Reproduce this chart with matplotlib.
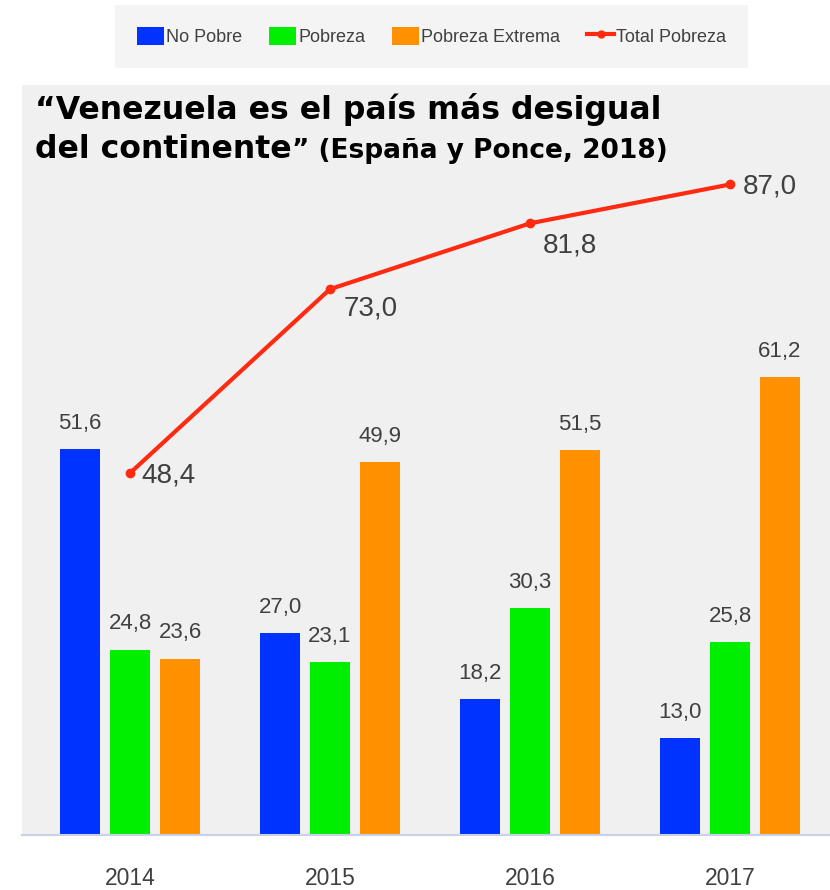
import matplotlib
matplotlib.use("Agg")
import matplotlib.pyplot as plt
from matplotlib.patches import Patch
from matplotlib.lines import Line2D

years = ["2014", "2015", "2016", "2017"]
no_pobre = [51.6, 27.0, 18.2, 13.0]
pobreza = [24.8, 23.1, 30.3, 25.8]
pobreza_extrema = [23.6, 49.9, 51.5, 61.2]
total_pobreza = [48.4, 73.0, 81.8, 87.0]

series_names = ["No Pobre", "Pobreza", "Pobreza Extrema"]
colors = ["#0033ff", "#00ee00", "#ff9000"]
line_color = "#ff2a10"
bg = "#f0f0f0"
txt = "#404040"
narrow = ["Liberation Sans", "DejaVu Sans"]

# label offsets (px) for the total line labels
line_offsets = [(11, -2), (14, -19), (13, -22), (13, -2)]


def fmt(v):
    return f"{v:.1f}".replace(".", ",")


W, H = 830, 890
fig = plt.figure(figsize=(W / 100, H / 100), dpi=100)
fig.patch.set_facecolor("white")

ax = fig.add_axes([22 / W, (H - 835) / H, (W - 22) / W, 750 / H])
ax.set_facecolor(bg)

x = list(range(len(years)))
bw = 0.2
step = 0.25
for i, (vals, c) in enumerate(zip([no_pobre, pobreza, pobreza_extrema], colors)):
    xs = [xi + (i - 1) * step for xi in x]
    bars = ax.bar(xs, vals, width=bw, color=c, zorder=2)
    ax.bar_label(bars, labels=[fmt(v) for v in vals], padding=11,
                 fontsize=16, color=txt, family=narrow)

ax.plot(x, total_pobreza, color=line_color, lw=3, marker="o", ms=6, zorder=3)
for xi, v, off in zip(x, total_pobreza, line_offsets):
    ax.annotate(fmt(v), (xi, v), xytext=off, textcoords="offset pixels",
                ha="left", va="center", fontsize=20, color=txt, family=narrow)

ax.set_xlim(-0.54, 3.5)
ax.set_ylim(0, 100.3)
ax.set_xticks(x)
ax.set_xticklabels(years, fontsize=16.5, color=txt, family=narrow)
ax.tick_params(axis="x", length=0, pad=23)
ax.set_yticks([])
for s in ["top", "right", "left"]:
    ax.spines[s].set_visible(False)
ax.spines["bottom"].set_color("#c8d0ea")
ax.spines["bottom"].set_linewidth(1.5)

# title
y1 = 1 - 119 / H
y2 = 1 - 158 / H
fig.text(35 / W, y1, "“Venezuela es el país más desigual", fontsize=22.7,
         fontweight="bold", family="DejaVu Sans", va="baseline", color="black")
t2 = fig.text(35 / W, y2, "del continente", fontsize=22.7, fontweight="bold",
              family="DejaVu Sans", va="baseline", color="black")
fig.canvas.draw()
bb = t2.get_window_extent(fig.canvas.get_renderer())
fig.text(bb.x1 / W, y2, "” (España y Ponce, 2018)", fontsize=19, fontweight="bold",
         family="DejaVu Sans", va="baseline", color="black")

# legend
handles = [Patch(facecolor=c, edgecolor="none") for c in colors]
handles.append(Line2D([0], [0], color=line_color, lw=3, marker="o", ms=5))
leg = fig.legend(handles, series_names + ["Total Pobreza"], loc="upper center",
                 bbox_to_anchor=(0.52, 1 - 5 / H), ncol=4, frameon=True,
                 facecolor="#f2f2f2", edgecolor="none", fancybox=False,
                 prop={"family": narrow, "size": 13}, handlelength=1.5,
                 handleheight=1.2, handletextpad=0.1, columnspacing=1.5,
                 borderpad=1.2, borderaxespad=0)
for t in leg.get_texts():
    t.set_color(txt)

fig.savefig("out.png", dpi=100)
